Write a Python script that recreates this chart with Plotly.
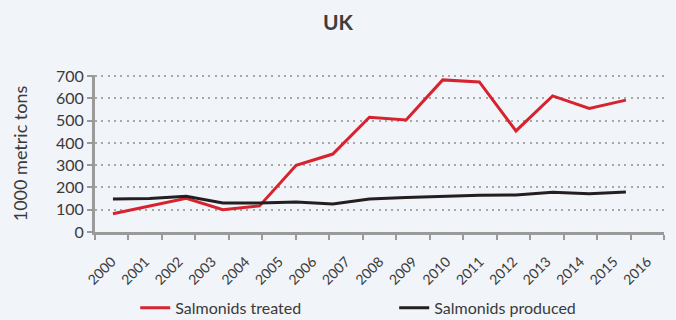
import plotly.graph_objects as go

# Axis tick labels (category axis)
axis_years = [str(y) for y in range(2000, 2017)]

# Series (15 plotted points, spaced as in the original chart)
series_points = [str(y) for y in range(2000, 2015)]
salmonids_treated = [82, 118, 151, 100, 117, 300, 350, 515, 503, 683, 674, 454, 611, 555, 592]
salmonids_produced = [148, 150, 160, 130, 130, 135, 126, 148, 155, 160, 165, 166, 178, 172, 180]

FONT = "Lato"
TXT = "#3a3a3a"
AXIS = "#9a9a9a"
BG = "#f1f4f9"

fig = go.Figure()
# invisible trace to establish the category axis
fig.add_trace(go.Scatter(x=axis_years, y=[None] * len(axis_years), xaxis="x",
                         showlegend=False, hoverinfo="skip", mode="lines"))
fig.add_trace(go.Scatter(x=series_points, y=salmonids_treated, xaxis="x2",
                         name="Salmonids treated", mode="lines",
                         line=dict(color="#d7232e", width=3)))
fig.add_trace(go.Scatter(x=series_points, y=salmonids_produced, xaxis="x2",
                         name="Salmonids produced", mode="lines",
                         line=dict(color="#231f20", width=3)))

fig.update_layout(
    width=676, height=320,
    paper_bgcolor=BG, plot_bgcolor=BG,
    margin=dict(l=95, r=12, t=75, b=88),
    font=dict(family=FONT, color=TXT, size=14),
    title=dict(text="<b>UK</b>", x=0.5, xref="container", xanchor="center",
               y=0.93, yref="container", yanchor="middle",
               font=dict(size=21, color="#3d3d3d"), automargin=False),
    xaxis=dict(type="category", range=[-0.5, 16.5], tickangle=-45,
               tickson="boundaries", ticks="outside", ticklen=5, tickwidth=2,
               tickcolor=AXIS, showline=True, linecolor=AXIS, linewidth=3,
               showgrid=False, tickfont=dict(size=14, color=TXT), fixedrange=True,
               ticklabelstandoff=13, automargin=False),
    xaxis2=dict(type="category", overlaying="x", range=[-0.49, 15.04],
                visible=False, showgrid=False, automargin=False),
    yaxis=dict(range=[0, 705], tickvals=[0, 100, 200, 300, 400, 500, 600, 700],
               ticks="outside", ticklen=5, tickwidth=2,
               tickcolor=AXIS, showline=True, linecolor=AXIS, linewidth=3,
               showgrid=True, gridcolor="#a8a8a8", gridwidth=2, griddash="2px,4.3px",
               zeroline=False, tickfont=dict(size=16, color=TXT), automargin=False,
               title=dict(text="1000 metric tons", font=dict(size=18, color=TXT), standoff=24)),
    legend=dict(orientation="h", x=0.2, xanchor="left", xref="container",
                y=0.038, yanchor="middle", yref="container",
                font=dict(size=16, color=TXT), bgcolor="rgba(0,0,0,0)",
                entrywidth=214, entrywidthmode="pixels", tracegroupgap=0),
    showlegend=True,
)

fig.write_html("out.html", config={"displayModeBar": False},
               post_script="document.body.style.margin='0';document.body.style.background='#f1f4f9';")
